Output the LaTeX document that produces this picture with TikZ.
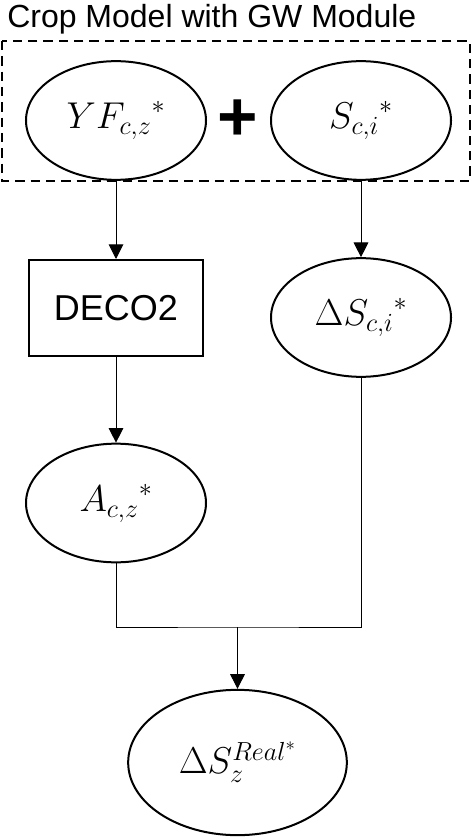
\RequirePackage{fix-cm}
\documentclass[tikz,border=0pt]{standalone}
\usepackage{amsmath}
\usepackage{fontspec}
\setmainfont{Liberation Sans}
\usepackage{tikz}
\usetikzlibrary{arrows.meta, shapes.geometric}

\tikzset{
  varnode/.style={draw, ellipse, line width=1.5pt, inner sep=0pt,
                  minimum width=135pt, minimum height=89pt,
                  font=\fontsize{28}{32}\selectfont},
  procbox/.style={draw, rectangle, line width=1.5pt, inner sep=0pt,
                  minimum width=130.5pt, minimum height=72pt,
                  font=\fontsize{27}{31}\selectfont},
  flow/.style={line width=0.75pt, -{Triangle[width=11pt, length=11pt]}},
  link/.style={line width=0.75pt}
}

\begin{document}
\begin{tikzpicture}[x=0.75pt, y=-0.75pt]
  \useasboundingbox (0,0) rectangle (472,837);

  % Crop model group
  \node[anchor=base west, font=\fontsize{24}{28}\selectfont, inner sep=0pt] (title) at (7,28) {Crop Model with GW Module};
  \draw[line width=1.5pt, dash pattern=on 7pt off 4.5pt] (2,41) rectangle (470,181);

  \node[varnode] (yf) at (116,120.5) {${YF_{c,z}}^{*}$};
  \node[font=\bfseries\fontsize{52}{56}\selectfont, inner sep=0pt] (plus) at (237.5,120) {+};
  \node[varnode] (sci) at (361,120.5) {${S_{c,i}}^{*}$};

  % Middle
  \node[procbox] (deco) at (116,308) {DECO2};
  \node[varnode] (dsci) at (361,317.5) {$\Delta {S_{c,i}}^{*}$};
  \node[varnode] (acz) at (116,503) {${A_{c,z}}^{*}$};

  % Result
  \node[varnode, minimum width=164pt, minimum height=109pt] (dsreal) at (237.5,762.5) {$\Delta S_{z}^{Real^{*}}$};

  \draw[flow] (yf) -- (deco);
  \draw[flow] (sci) -- (dsci);
  \draw[flow] (deco) -- (acz);

  \coordinate (join) at (237.5,627);
  \draw[link] (acz.south) |- (join) -| (dsci.south);
  \draw[flow] (join) -- (dsreal);
\end{tikzpicture}
\end{document}
